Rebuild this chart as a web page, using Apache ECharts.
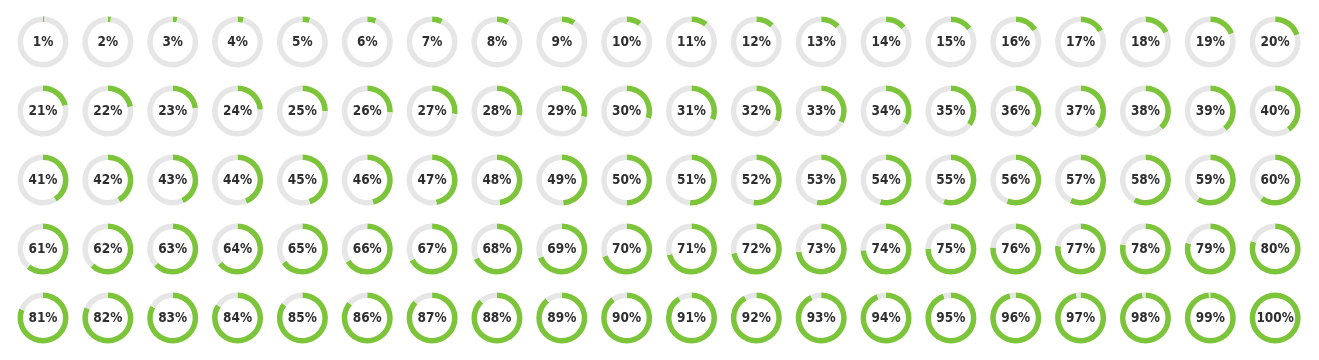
<!DOCTYPE html>
<html><head><meta charset="utf-8">
<script src="https://cdn.jsdelivr.net/npm/echarts@6/dist/echarts.min.js"></script>
<style>html,body{margin:0;padding:0;background:#fff}#c{width:1319px;height:360px}</style>
</head><body><div id="c"></div>
<script>
const row1 = [1,2,3,4,5,6,7,8,9,10,11,12,13,14,15,16,17,18,19,20];
const row2 = [21,22,23,24,25,26,27,28,29,30,31,32,33,34,35,36,37,38,39,40];
const row3 = [41,42,43,44,45,46,47,48,49,50,51,52,53,54,55,56,57,58,59,60];
const row4 = [61,62,63,64,65,66,67,68,69,70,71,72,73,74,75,76,77,78,79,80];
const row5 = [81,82,83,84,85,86,87,88,89,90,91,92,93,94,95,96,97,98,99,100];
const rows = [row1,row2,row3,row4,row5];
const total = 100;

const GREEN = '#7cc53a', GRAY = '#e6e6e6', TEXT = '#2f2f2f';
const x0 = 43, dx = 64.85, y0 = 42, dy = 69;

const series = [];
rows.forEach((row, r) => {
  row.forEach((v, c) => {
    series.push({
      type: 'pie',
      center: [x0 + dx * c, y0 + dy * r],
      radius: [20, 25.5],
      startAngle: 90,
      clockwise: true,
      silent: true,
      avoidLabelOverlap: false,
      minAngle: 0,
      labelLine: { show: false },
      emphasis: { disabled: true },
      data: [
        { value: v, itemStyle: { color: GREEN },
          label: { show: true, position: 'center', formatter: v + '%',
                   fontFamily: 'DejaVu Sans Condensed', fontWeight: 'bold',
                   fontSize: 13.5, color: TEXT } },
        { value: total - v, itemStyle: { color: GRAY }, label: { show: false } }
      ]
    });
  });
});

const chart = echarts.init(document.getElementById('c'), null, { renderer: 'canvas' });
chart.setOption({ animation: false, backgroundColor: '#fff', series });
</script></body></html>
